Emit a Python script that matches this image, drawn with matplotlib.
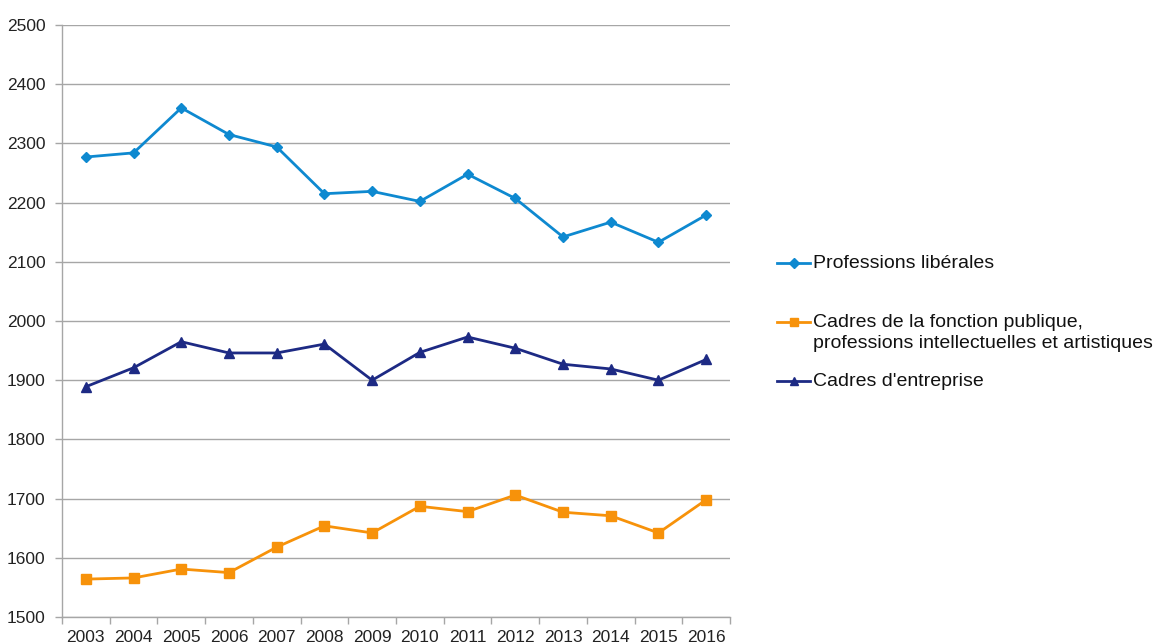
import numpy as np
import matplotlib
matplotlib.use("Agg")
import matplotlib.pyplot as plt
from matplotlib.lines import Line2D

plt.rcParams['font.family'] = ['Liberation Sans', 'DejaVu Sans']

years = [str(y) for y in range(2003, 2017)]

prof_liberales = [2277, 2284, 2360, 2315, 2294, 2215, 2219, 2202, 2248, 2207,
                  2142, 2167, 2133, 2179]
cadres_fonction_publique = [1564, 1566, 1581, 1575, 1618, 1654, 1642, 1687, 1678, 1706,
                            1677, 1671, 1642, 1698]
cadres_entreprise = [1889, 1921, 1965, 1946, 1946, 1961, 1900, 1947, 1973, 1954,
                     1927, 1919, 1900, 1935]

labels = ["Professions libérales",
          "Cadres de la fonction publique,\nprofessions intellectuelles et artistiques",
          "Cadres d'entreprise"]
colors = ["#0E89D0", "#F7920A", "#1D2A84"]
markers = ["D", "s", "^"]
msizes = [5.5, 7, 7.5]

W, H = 1154, 643
fig = plt.figure(figsize=(W / 100, H / 100), dpi=100)
ax = fig.add_axes([62 / W, 1 - 617 / H, (730 - 62) / W, (617 - 25) / H])

x = np.arange(len(years))
series = [prof_liberales, cadres_fonction_publique, cadres_entreprise]
for vals, c, m, ms in zip(series, colors, markers, msizes):
    ax.plot(x, vals, color=c, lw=2.0, marker=m, markersize=ms,
            markerfacecolor=c, markeredgecolor=c, zorder=3)

ax.set_xlim(-0.5, len(years) - 0.5)
ax.set_ylim(1500, 2500)
ax.set_yticks(np.arange(1500, 2501, 100))
ax.grid(axis='y', color='#A6A6A6', lw=1.0)
ax.set_axisbelow(True)

# category labels centred, tick marks on the boundaries
ax.set_xticks(x)
ax.set_xticklabels(years)
ax.set_xticks(np.arange(-0.5, len(years)), minor=True)
ax.tick_params(axis='x', which='major', length=0, pad=9, labelsize=12.5, labelcolor='#222222')
ax.tick_params(axis='x', which='minor', length=5, color='#A6A6A6', width=1)
ax.tick_params(axis='y', length=5, color='#A6A6A6', width=1, pad=7,
               labelsize=12.5, labelcolor='#222222')

for s in ['top', 'right']:
    ax.spines[s].set_visible(False)
for s in ['left', 'bottom']:
    ax.spines[s].set_color('#A6A6A6')
    ax.spines[s].set_linewidth(1)

# legend on the right, one key per series, text lines 22 px apart
legend_y = [263, 322, 381]
for lab, c, m, ms, yy in zip(labels, colors, markers, msizes, legend_y):
    fy = 1 - yy / H
    fig.add_artist(Line2D([777 / W, 810 / W], [fy, fy], color=c, lw=2.0,
                          transform=fig.transFigure))
    fig.add_artist(Line2D([793.5 / W], [fy], color=c, marker=m, markersize=ms * 0.85,
                          transform=fig.transFigure))
    for i, line in enumerate(lab.split('\n')):
        fig.text(813 / W, 1 - (yy + 22 * i) / H, line, fontsize=14, color='#111111',
                 va='center', ha='left')

fig.savefig("out.png", dpi=100)
